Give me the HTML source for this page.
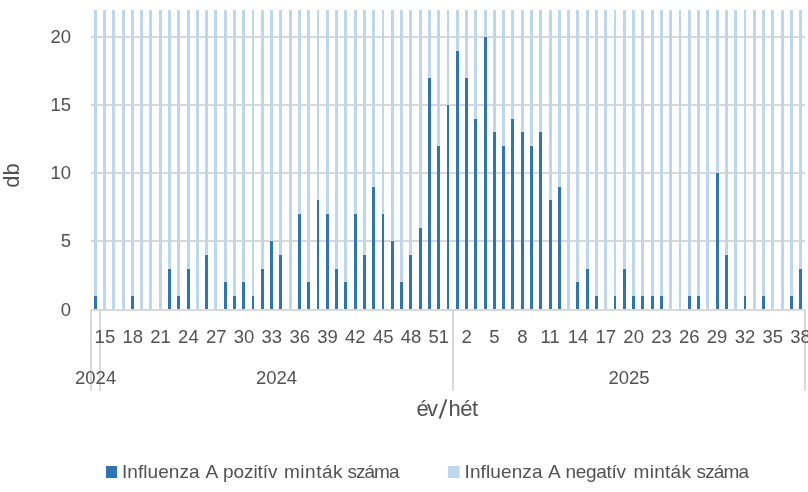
<!DOCTYPE html>
<html><head><meta charset="utf-8"><style>
html,body{margin:0;padding:0;background:#fff;width:808px;height:492px;overflow:hidden}
#c{will-change:transform;width:808px;height:492px}
svg{display:block}
text{font-family:"Liberation Sans", sans-serif;fill:#525252}
</style></head><body>
<div id="c"><svg width="808" height="492" viewBox="0 0 808 492">
<rect x="91" y="240" width="714" height="2" fill="#D9D9D9"/>
<rect x="91" y="172" width="714" height="2" fill="#D9D9D9"/>
<rect x="91" y="104" width="714" height="2" fill="#D9D9D9"/>
<rect x="91" y="36" width="714" height="2" fill="#D9D9D9"/>
<rect x="94" y="10" width="3" height="285" fill="#BDD7EE"/>
<rect x="94" y="295" width="3" height="1" fill="#CCDEF1"/>
<rect x="94" y="296" width="3" height="13" fill="#2E75B6"/>
<rect x="103" y="10" width="3" height="299" fill="#BDD7EE"/>
<rect x="112" y="10" width="3" height="299" fill="#BDD7EE"/>
<rect x="122" y="10" width="3" height="299" fill="#BDD7EE"/>
<rect x="131" y="10" width="3" height="285" fill="#BDD7EE"/>
<rect x="131" y="295" width="3" height="1" fill="#CCDEF1"/>
<rect x="131" y="296" width="3" height="13" fill="#2E75B6"/>
<rect x="140" y="10" width="3" height="299" fill="#BDD7EE"/>
<rect x="149" y="10" width="3" height="299" fill="#BDD7EE"/>
<rect x="159" y="10" width="3" height="299" fill="#BDD7EE"/>
<rect x="168" y="10" width="3" height="258" fill="#BDD7EE"/>
<rect x="168" y="268" width="3" height="1" fill="#CCDEF1"/>
<rect x="168" y="269" width="3" height="40" fill="#2E75B6"/>
<rect x="177" y="10" width="3" height="285" fill="#BDD7EE"/>
<rect x="177" y="295" width="3" height="1" fill="#CCDEF1"/>
<rect x="177" y="296" width="3" height="13" fill="#2E75B6"/>
<rect x="187" y="10" width="3" height="258" fill="#BDD7EE"/>
<rect x="187" y="268" width="3" height="1" fill="#CCDEF1"/>
<rect x="187" y="269" width="3" height="40" fill="#2E75B6"/>
<rect x="196" y="10" width="3" height="299" fill="#BDD7EE"/>
<rect x="205" y="10" width="3" height="244" fill="#BDD7EE"/>
<rect x="205" y="254" width="3" height="1" fill="#CCDEF1"/>
<rect x="205" y="255" width="3" height="54" fill="#2E75B6"/>
<rect x="214" y="10" width="3" height="299" fill="#BDD7EE"/>
<rect x="224" y="10" width="3" height="271" fill="#BDD7EE"/>
<rect x="224" y="281" width="3" height="1" fill="#CCDEF1"/>
<rect x="224" y="282" width="3" height="27" fill="#2E75B6"/>
<rect x="233" y="10" width="3" height="285" fill="#BDD7EE"/>
<rect x="233" y="295" width="3" height="1" fill="#CCDEF1"/>
<rect x="233" y="296" width="3" height="13" fill="#2E75B6"/>
<rect x="242" y="10" width="3" height="271" fill="#BDD7EE"/>
<rect x="242" y="281" width="3" height="1" fill="#CCDEF1"/>
<rect x="242" y="282" width="3" height="27" fill="#2E75B6"/>
<rect x="252" y="10" width="2" height="285" fill="#BDD7EE"/>
<rect x="252" y="295" width="2" height="1" fill="#CCDEF1"/>
<rect x="252" y="296" width="2" height="13" fill="#2E75B6"/>
<rect x="261" y="10" width="3" height="258" fill="#BDD7EE"/>
<rect x="261" y="268" width="3" height="1" fill="#CCDEF1"/>
<rect x="261" y="269" width="3" height="40" fill="#2E75B6"/>
<rect x="270" y="10" width="3" height="230" fill="#BDD7EE"/>
<rect x="270" y="240" width="3" height="1" fill="#CCDEF1"/>
<rect x="270" y="241" width="3" height="68" fill="#2E75B6"/>
<rect x="279" y="10" width="3" height="244" fill="#BDD7EE"/>
<rect x="279" y="254" width="3" height="1" fill="#CCDEF1"/>
<rect x="279" y="255" width="3" height="54" fill="#2E75B6"/>
<rect x="289" y="10" width="3" height="299" fill="#BDD7EE"/>
<rect x="298" y="10" width="3" height="203" fill="#BDD7EE"/>
<rect x="298" y="213" width="3" height="1" fill="#CCDEF1"/>
<rect x="298" y="214" width="3" height="95" fill="#2E75B6"/>
<rect x="307" y="10" width="3" height="271" fill="#BDD7EE"/>
<rect x="307" y="281" width="3" height="1" fill="#CCDEF1"/>
<rect x="307" y="282" width="3" height="27" fill="#2E75B6"/>
<rect x="317" y="10" width="2" height="189" fill="#BDD7EE"/>
<rect x="317" y="199" width="2" height="1" fill="#CCDEF1"/>
<rect x="317" y="200" width="2" height="109" fill="#2E75B6"/>
<rect x="326" y="10" width="3" height="203" fill="#BDD7EE"/>
<rect x="326" y="213" width="3" height="1" fill="#CCDEF1"/>
<rect x="326" y="214" width="3" height="95" fill="#2E75B6"/>
<rect x="335" y="10" width="3" height="258" fill="#BDD7EE"/>
<rect x="335" y="268" width="3" height="1" fill="#CCDEF1"/>
<rect x="335" y="269" width="3" height="40" fill="#2E75B6"/>
<rect x="344" y="10" width="3" height="271" fill="#BDD7EE"/>
<rect x="344" y="281" width="3" height="1" fill="#CCDEF1"/>
<rect x="344" y="282" width="3" height="27" fill="#2E75B6"/>
<rect x="354" y="10" width="3" height="203" fill="#BDD7EE"/>
<rect x="354" y="213" width="3" height="1" fill="#CCDEF1"/>
<rect x="354" y="214" width="3" height="95" fill="#2E75B6"/>
<rect x="363" y="10" width="3" height="244" fill="#BDD7EE"/>
<rect x="363" y="254" width="3" height="1" fill="#CCDEF1"/>
<rect x="363" y="255" width="3" height="54" fill="#2E75B6"/>
<rect x="372" y="10" width="3" height="176" fill="#BDD7EE"/>
<rect x="372" y="186" width="3" height="1" fill="#CCDEF1"/>
<rect x="372" y="187" width="3" height="122" fill="#2E75B6"/>
<rect x="382" y="10" width="2" height="203" fill="#BDD7EE"/>
<rect x="382" y="213" width="2" height="1" fill="#CCDEF1"/>
<rect x="382" y="214" width="2" height="95" fill="#2E75B6"/>
<rect x="391" y="10" width="3" height="230" fill="#BDD7EE"/>
<rect x="391" y="240" width="3" height="1" fill="#CCDEF1"/>
<rect x="391" y="241" width="3" height="68" fill="#2E75B6"/>
<rect x="400" y="10" width="3" height="271" fill="#BDD7EE"/>
<rect x="400" y="281" width="3" height="1" fill="#CCDEF1"/>
<rect x="400" y="282" width="3" height="27" fill="#2E75B6"/>
<rect x="409" y="10" width="3" height="244" fill="#BDD7EE"/>
<rect x="409" y="254" width="3" height="1" fill="#CCDEF1"/>
<rect x="409" y="255" width="3" height="54" fill="#2E75B6"/>
<rect x="419" y="10" width="3" height="217" fill="#BDD7EE"/>
<rect x="419" y="227" width="3" height="1" fill="#CCDEF1"/>
<rect x="419" y="228" width="3" height="81" fill="#2E75B6"/>
<rect x="428" y="10" width="3" height="67" fill="#BDD7EE"/>
<rect x="428" y="77" width="3" height="1" fill="#CCDEF1"/>
<rect x="428" y="78" width="3" height="231" fill="#2E75B6"/>
<rect x="437" y="10" width="3" height="135" fill="#BDD7EE"/>
<rect x="437" y="145" width="3" height="1" fill="#CCDEF1"/>
<rect x="437" y="146" width="3" height="163" fill="#2E75B6"/>
<rect x="447" y="10" width="2" height="94" fill="#BDD7EE"/>
<rect x="447" y="104" width="2" height="1" fill="#CCDEF1"/>
<rect x="447" y="105" width="2" height="204" fill="#2E75B6"/>
<rect x="456" y="10" width="3" height="40" fill="#BDD7EE"/>
<rect x="456" y="50" width="3" height="1" fill="#CCDEF1"/>
<rect x="456" y="51" width="3" height="258" fill="#2E75B6"/>
<rect x="465" y="10" width="3" height="67" fill="#BDD7EE"/>
<rect x="465" y="77" width="3" height="1" fill="#CCDEF1"/>
<rect x="465" y="78" width="3" height="231" fill="#2E75B6"/>
<rect x="474" y="10" width="3" height="108" fill="#BDD7EE"/>
<rect x="474" y="118" width="3" height="1" fill="#CCDEF1"/>
<rect x="474" y="119" width="3" height="190" fill="#2E75B6"/>
<rect x="484" y="10" width="3" height="26" fill="#BDD7EE"/>
<rect x="484" y="36" width="3" height="1" fill="#CCDEF1"/>
<rect x="484" y="37" width="3" height="272" fill="#2E75B6"/>
<rect x="493" y="10" width="3" height="121" fill="#BDD7EE"/>
<rect x="493" y="131" width="3" height="1" fill="#CCDEF1"/>
<rect x="493" y="132" width="3" height="177" fill="#2E75B6"/>
<rect x="502" y="10" width="3" height="135" fill="#BDD7EE"/>
<rect x="502" y="145" width="3" height="1" fill="#CCDEF1"/>
<rect x="502" y="146" width="3" height="163" fill="#2E75B6"/>
<rect x="511" y="10" width="3" height="108" fill="#BDD7EE"/>
<rect x="511" y="118" width="3" height="1" fill="#CCDEF1"/>
<rect x="511" y="119" width="3" height="190" fill="#2E75B6"/>
<rect x="521" y="10" width="3" height="121" fill="#BDD7EE"/>
<rect x="521" y="131" width="3" height="1" fill="#CCDEF1"/>
<rect x="521" y="132" width="3" height="177" fill="#2E75B6"/>
<rect x="530" y="10" width="3" height="135" fill="#BDD7EE"/>
<rect x="530" y="145" width="3" height="1" fill="#CCDEF1"/>
<rect x="530" y="146" width="3" height="163" fill="#2E75B6"/>
<rect x="539" y="10" width="3" height="121" fill="#BDD7EE"/>
<rect x="539" y="131" width="3" height="1" fill="#CCDEF1"/>
<rect x="539" y="132" width="3" height="177" fill="#2E75B6"/>
<rect x="549" y="10" width="3" height="189" fill="#BDD7EE"/>
<rect x="549" y="199" width="3" height="1" fill="#CCDEF1"/>
<rect x="549" y="200" width="3" height="109" fill="#2E75B6"/>
<rect x="558" y="10" width="3" height="176" fill="#BDD7EE"/>
<rect x="558" y="186" width="3" height="1" fill="#CCDEF1"/>
<rect x="558" y="187" width="3" height="122" fill="#2E75B6"/>
<rect x="567" y="10" width="3" height="299" fill="#BDD7EE"/>
<rect x="576" y="10" width="3" height="271" fill="#BDD7EE"/>
<rect x="576" y="281" width="3" height="1" fill="#CCDEF1"/>
<rect x="576" y="282" width="3" height="27" fill="#2E75B6"/>
<rect x="586" y="10" width="3" height="258" fill="#BDD7EE"/>
<rect x="586" y="268" width="3" height="1" fill="#CCDEF1"/>
<rect x="586" y="269" width="3" height="40" fill="#2E75B6"/>
<rect x="595" y="10" width="3" height="285" fill="#BDD7EE"/>
<rect x="595" y="295" width="3" height="1" fill="#CCDEF1"/>
<rect x="595" y="296" width="3" height="13" fill="#2E75B6"/>
<rect x="604" y="10" width="3" height="299" fill="#BDD7EE"/>
<rect x="614" y="10" width="2" height="285" fill="#BDD7EE"/>
<rect x="614" y="295" width="2" height="1" fill="#CCDEF1"/>
<rect x="614" y="296" width="2" height="13" fill="#2E75B6"/>
<rect x="623" y="10" width="3" height="258" fill="#BDD7EE"/>
<rect x="623" y="268" width="3" height="1" fill="#CCDEF1"/>
<rect x="623" y="269" width="3" height="40" fill="#2E75B6"/>
<rect x="632" y="10" width="3" height="285" fill="#BDD7EE"/>
<rect x="632" y="295" width="3" height="1" fill="#CCDEF1"/>
<rect x="632" y="296" width="3" height="13" fill="#2E75B6"/>
<rect x="641" y="10" width="3" height="285" fill="#BDD7EE"/>
<rect x="641" y="295" width="3" height="1" fill="#CCDEF1"/>
<rect x="641" y="296" width="3" height="13" fill="#2E75B6"/>
<rect x="651" y="10" width="3" height="285" fill="#BDD7EE"/>
<rect x="651" y="295" width="3" height="1" fill="#CCDEF1"/>
<rect x="651" y="296" width="3" height="13" fill="#2E75B6"/>
<rect x="660" y="10" width="3" height="285" fill="#BDD7EE"/>
<rect x="660" y="295" width="3" height="1" fill="#CCDEF1"/>
<rect x="660" y="296" width="3" height="13" fill="#2E75B6"/>
<rect x="669" y="10" width="3" height="299" fill="#BDD7EE"/>
<rect x="679" y="10" width="2" height="299" fill="#BDD7EE"/>
<rect x="688" y="10" width="3" height="285" fill="#BDD7EE"/>
<rect x="688" y="295" width="3" height="1" fill="#CCDEF1"/>
<rect x="688" y="296" width="3" height="13" fill="#2E75B6"/>
<rect x="697" y="10" width="3" height="285" fill="#BDD7EE"/>
<rect x="697" y="295" width="3" height="1" fill="#CCDEF1"/>
<rect x="697" y="296" width="3" height="13" fill="#2E75B6"/>
<rect x="706" y="10" width="3" height="299" fill="#BDD7EE"/>
<rect x="716" y="10" width="3" height="162" fill="#BDD7EE"/>
<rect x="716" y="172" width="3" height="1" fill="#CCDEF1"/>
<rect x="716" y="173" width="3" height="136" fill="#2E75B6"/>
<rect x="725" y="10" width="3" height="244" fill="#BDD7EE"/>
<rect x="725" y="254" width="3" height="1" fill="#CCDEF1"/>
<rect x="725" y="255" width="3" height="54" fill="#2E75B6"/>
<rect x="734" y="10" width="3" height="299" fill="#BDD7EE"/>
<rect x="744" y="10" width="2" height="285" fill="#BDD7EE"/>
<rect x="744" y="295" width="2" height="1" fill="#CCDEF1"/>
<rect x="744" y="296" width="2" height="13" fill="#2E75B6"/>
<rect x="753" y="10" width="3" height="299" fill="#BDD7EE"/>
<rect x="762" y="10" width="3" height="285" fill="#BDD7EE"/>
<rect x="762" y="295" width="3" height="1" fill="#CCDEF1"/>
<rect x="762" y="296" width="3" height="13" fill="#2E75B6"/>
<rect x="771" y="10" width="3" height="299" fill="#BDD7EE"/>
<rect x="781" y="10" width="3" height="299" fill="#BDD7EE"/>
<rect x="790" y="10" width="3" height="285" fill="#BDD7EE"/>
<rect x="790" y="295" width="3" height="1" fill="#CCDEF1"/>
<rect x="790" y="296" width="3" height="13" fill="#2E75B6"/>
<rect x="799" y="10" width="3" height="258" fill="#BDD7EE"/>
<rect x="799" y="268" width="3" height="1" fill="#CCDEF1"/>
<rect x="799" y="269" width="3" height="40" fill="#2E75B6"/>
<rect x="91" y="309" width="715" height="2" fill="#D9D9D9"/>
<rect x="90" y="310" width="2" height="81" fill="#D9D9D9"/>
<rect x="99" y="310" width="2" height="81" fill="#D9D9D9"/>
<rect x="452" y="310" width="2" height="81" fill="#D9D9D9"/>
<rect x="804" y="310" width="2" height="81" fill="#D9D9D9"/>
<text x="71" y="315.90" text-anchor="end" font-size="18.5">0</text>
<text x="71" y="246.90" text-anchor="end" font-size="18.5">5</text>
<text x="71" y="178.90" text-anchor="end" font-size="18.5">10</text>
<text x="71" y="110.90" text-anchor="end" font-size="18.5">15</text>
<text x="71" y="42.90" text-anchor="end" font-size="18.5">20</text>
<text x="104.91" y="342.7" text-anchor="middle" font-size="18.5">15</text>
<text x="132.74" y="342.7" text-anchor="middle" font-size="18.5">18</text>
<text x="160.57" y="342.7" text-anchor="middle" font-size="18.5">21</text>
<text x="188.40" y="342.7" text-anchor="middle" font-size="18.5">24</text>
<text x="216.23" y="342.7" text-anchor="middle" font-size="18.5">27</text>
<text x="244.05" y="342.7" text-anchor="middle" font-size="18.5">30</text>
<text x="271.88" y="342.7" text-anchor="middle" font-size="18.5">33</text>
<text x="299.71" y="342.7" text-anchor="middle" font-size="18.5">36</text>
<text x="327.54" y="342.7" text-anchor="middle" font-size="18.5">39</text>
<text x="355.37" y="342.7" text-anchor="middle" font-size="18.5">42</text>
<text x="383.19" y="342.7" text-anchor="middle" font-size="18.5">45</text>
<text x="411.02" y="342.7" text-anchor="middle" font-size="18.5">48</text>
<text x="438.85" y="342.7" text-anchor="middle" font-size="18.5">51</text>
<text x="466.68" y="342.7" text-anchor="middle" font-size="18.5">2</text>
<text x="494.51" y="342.7" text-anchor="middle" font-size="18.5">5</text>
<text x="522.33" y="342.7" text-anchor="middle" font-size="18.5">8</text>
<text x="550.16" y="342.7" text-anchor="middle" font-size="18.5">11</text>
<text x="577.99" y="342.7" text-anchor="middle" font-size="18.5">14</text>
<text x="605.82" y="342.7" text-anchor="middle" font-size="18.5">17</text>
<text x="633.65" y="342.7" text-anchor="middle" font-size="18.5">20</text>
<text x="661.47" y="342.7" text-anchor="middle" font-size="18.5">23</text>
<text x="689.30" y="342.7" text-anchor="middle" font-size="18.5">26</text>
<text x="717.13" y="342.7" text-anchor="middle" font-size="18.5">29</text>
<text x="744.96" y="342.7" text-anchor="middle" font-size="18.5">32</text>
<text x="772.79" y="342.7" text-anchor="middle" font-size="18.5">35</text>
<text x="800.61" y="342.7" text-anchor="middle" font-size="18.5">38</text>
<text x="95.64" y="384" text-anchor="middle" font-size="18.5">2024</text>
<text x="276.52" y="384" text-anchor="middle" font-size="18.5">2024</text>
<text x="629.01" y="384" text-anchor="middle" font-size="18.5">2025</text>
<text x="416.5" y="416" font-size="22" textLength="21.5">év</text>
<line x1="439.6" y1="418.6" x2="446.4" y2="399.4" stroke="#525252" stroke-width="1.9"/>
<text x="448.5" y="416" font-size="22" textLength="29.5">hét</text>
<text transform="translate(18.8,175.5) rotate(-90)" text-anchor="middle" font-size="22">db</text>
<rect x="106" y="466" width="11" height="12" fill="#2E75B6"/>
<text x="122.0" y="478" font-size="19" textLength="77.5">Influenza</text>
<text x="205.5" y="478" font-size="19">A</text>
<text x="223.0" y="478" font-size="19" textLength="54.5">pozitív</text>
<text x="284.0" y="478" font-size="19" textLength="58.5">minták</text>
<text x="347.5" y="478" font-size="19" textLength="52.0">száma</text>
<text x="464.5" y="478" font-size="19" textLength="78.0">Influenza</text>
<text x="548.0" y="478" font-size="19">A</text>
<text x="565.5" y="478" font-size="19" textLength="60.5">negatív</text>
<text x="633.5" y="478" font-size="19" textLength="57.5">minták</text>
<text x="696.5" y="478" font-size="19" textLength="52.5">száma</text>
<rect x="448" y="466" width="11.5" height="12" fill="#BDD7EE"/>
</svg></div>
</body></html>
